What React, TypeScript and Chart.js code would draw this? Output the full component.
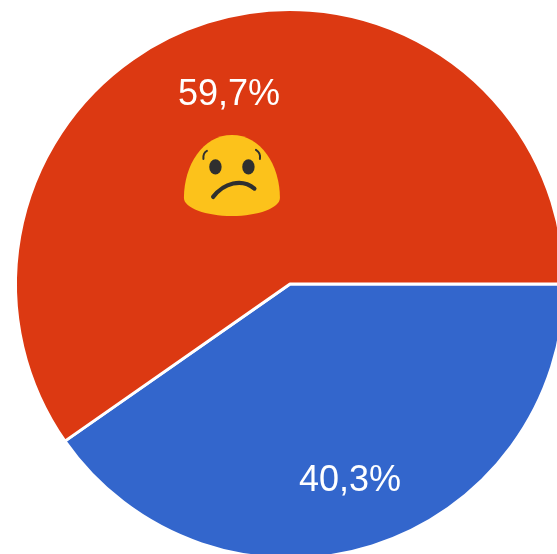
import React, { useEffect, useRef } from "react";
import { Chart, registerables } from "chart.js";

Chart.register(...registerables);

const categories = ["Positive", "Negative"];
const seriesValues = [40.3, 59.7];
const sliceLabels = ["40,3%", "59,7%"];
const sliceColors = ["#3366CC", "#DC3912"];
const emojiBySlice = [false, true];

const drawSadFace = (ctx: CanvasRenderingContext2D, cx: number, top: number) => {
  ctx.save();
  ctx.translate(cx, top);
  ctx.fillStyle = "#FCC21B";
  ctx.beginPath();
  ctx.moveTo(0, 0);
  ctx.bezierCurveTo(29, 0, 48, 30, 48, 63);
  ctx.bezierCurveTo(48, 73, 26, 81, 0, 81);
  ctx.bezierCurveTo(-26, 81, -48, 73, -48, 63);
  ctx.bezierCurveTo(-48, 30, -29, 0, 0, 0);
  ctx.closePath();
  ctx.fill();
  ctx.fillStyle = "#2F2F2F";
  ctx.beginPath();
  ctx.ellipse(-16.5, 32, 6.2, 7.6, 0, 0, Math.PI * 2);
  ctx.fill();
  ctx.beginPath();
  ctx.ellipse(16.5, 32, 6.2, 7.6, 0, 0, Math.PI * 2);
  ctx.fill();
  ctx.strokeStyle = "#2F2F2F";
  ctx.lineCap = "round";
  ctx.lineWidth = 4.2;
  ctx.beginPath();
  ctx.moveTo(-18.8, 62);
  ctx.bezierCurveTo(-8, 48, 10, 43, 22.5, 53.7);
  ctx.stroke();
  ctx.lineWidth = 2;
  ctx.beginPath();
  ctx.moveTo(-28.5, 24);
  ctx.quadraticCurveTo(-29, 18, -25, 16);
  ctx.moveTo(28, 24);
  ctx.quadraticCurveTo(29, 18, 24, 15);
  ctx.stroke();
  ctx.restore();
};

const sliceLabelPlugin = {
  id: "sliceLabels",
  afterDatasetsDraw(chart: any) {
    const { ctx } = chart;
    const arcs = chart.getDatasetMeta(0).data;
    ctx.save();
    ctx.fillStyle = "#FFFFFF";
    ctx.font = '36px "Liberation Sans", Arial, sans-serif';
    ctx.textAlign = "center";
    ctx.textBaseline = "middle";
    arcs.forEach((arc: any, i: number) => {
      const mid = (arc.startAngle + arc.endAngle) / 2;
      const r = arc.outerRadius * 0.7355;
      const x = arc.x + Math.cos(mid) * r - 0.5;
      const y = arc.y + Math.sin(mid) * r + 4;
      ctx.fillText(sliceLabels[i], x, y);
      if (emojiBySlice[i]) drawSadFace(ctx, x + 3, y + 39.5);
    });
    ctx.restore();
  },
};

export default function App() {
  const ref = useRef<HTMLCanvasElement>(null);
  useEffect(() => {
    const chart = new Chart(ref.current!, {
      type: "pie",
      data: {
        labels: categories,
        datasets: [
          {
            data: seriesValues,
            backgroundColor: sliceColors,
            borderColor: "#FFFFFF",
            borderWidth: 3,
          },
        ],
      },
      options: {
        responsive: false,
        animation: false,
        rotation: 90,
        radius: 274.5,
        layout: { padding: 0 },
        plugins: { legend: { display: false }, tooltip: { enabled: false } },
      },
      plugins: [sliceLabelPlugin],
    });
    return () => chart.destroy();
  }, []);
  return (
    <div style={{ position: "fixed", left: 0, top: 0, width: 557, height: 554, overflow: "hidden", background: "#fff" }}>
      <canvas ref={ref} width={600} height={600} style={{ position: "absolute", left: -10, top: -16, width: 600, height: 600 }} />
    </div>
  );
}
